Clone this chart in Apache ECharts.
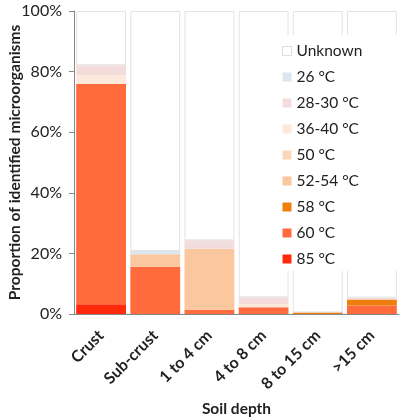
<!DOCTYPE html>
<html>
<head>
<meta charset="utf-8">
<script src="https://cdn.jsdelivr.net/npm/echarts@6/dist/echarts.min.js"></script>
<style>
  html, body { margin: 0; padding: 0; background: #fff; }
  #chart { width: 400px; height: 419px; }
</style>
</head>
<body>
<div id="chart"></div>
<script>
var depths = ["Crust", "Sub-crust", "1 to 4 cm", "4 to 8 cm", "8 to 15 cm", ">15 cm"];
var yTicks = [0, 20, 40, 60, 80, 100];

// percent of identified microorganisms, per depth
var t85 = [3.2, 0, 0, 0, 0, 0];
var t60 = [72.7, 15.6, 1.4, 2.2, 0, 2.8];
var t58 = [0, 0, 0, 0, 0.5, 2.0];
var t52 = [0, 4.1, 20.1, 0, 0, 0];
var t50 = [0, 0, 0, 0, 0, 0];
var t36 = [3.0, 0, 0, 1.1, 0, 0];
var t28 = [3.2, 0, 2.8, 2.2, 0, 0.6];
var t26 = [0, 1.1, 0, 0, 0, 0];
var unknown = [17.9, 79.2, 75.7, 94.5, 99.5, 94.6];

var font = "Lato";
var txt = "#222222";

function stackBar(name, data, color, border) {
    return {
        name: name,
        type: 'bar',
        stack: 'all',
        data: data,
        barCategoryGap: '8%',
        itemStyle: {
            color: color,
            borderColor: border ? '#e3e3e3' : color,
            borderWidth: border ? 1 : 0
        }
    };
}

var myChart = echarts.init(document.getElementById('chart'));
var option = {
    animation: false,
    backgroundColor: '#fff',
    textStyle: { fontFamily: font },
    grid: { left: 74, right: 1, top: 11, bottom: 105, containLabel: false, outerBoundsMode: 'none' },
    legend: {
        orient: 'vertical',
        left: 272,
        top: 35,
        padding: [8, 40, 4, 10],
        backgroundColor: '#fff',
        itemWidth: 9,
        itemHeight: 9,
        itemGap: 10,
        icon: 'rect',
        data: [
            { name: 'Unknown', itemStyle: { color: '#fff', borderColor: '#dddddd', borderWidth: 1 } },
            '26 °C', '28-30 °C', '36-40 °C', '50 °C', '52-54 °C', '58 °C', '60 °C', '85 °C'
        ],
        textStyle: { fontFamily: font, fontSize: 15.5, color: txt, lineHeight: 16 }
    },
    xAxis: {
        type: 'category',
        data: depths,
        name: 'Soil depth',
        nameLocation: 'middle',
        nameGap: 87,
        nameMoveOverlap: false,
        nameTextStyle: { fontFamily: font, fontSize: 15.5, fontWeight: 'bold', color: txt },
        axisLine: { lineStyle: { color: '#888', width: 1 } },
        axisTick: { length: 5, lineStyle: { color: '#888' } },
        axisLabel: {
            rotate: 45,
            margin: 19,
            fontFamily: font,
            fontSize: 16,
            fontWeight: 'bold',
            color: txt
        }
    },
    yAxis: {
        type: 'value',
        min: 0,
        max: 100,
        interval: 20,
        name: 'Proportion of identified microorganisms',
        nameLocation: 'middle',
        nameGap: 51,
        nameMoveOverlap: false,
        nameTextStyle: { fontFamily: font, fontSize: 15.5, fontWeight: 'bold', color: txt },
        axisLine: { show: true, lineStyle: { color: '#888', width: 1 } },
        axisTick: { show: true, length: 5, lineStyle: { color: '#888' } },
        splitLine: { show: false },
        axisLabel: {
            margin: 12,
            fontFamily: font,
            fontSize: 16,
            color: txt,
            formatter: function (v) {
                return yTicks.indexOf(v) >= 0 ? v + '%' : '';
            }
        }
    },
    series: [
        stackBar('85 °C', t85, '#ff2a0c'),
        stackBar('60 °C', t60, '#ff6b3d'),
        stackBar('58 °C', t58, '#ef7f0c'),
        stackBar('52-54 °C', t52, '#fbc79e'),
        stackBar('50 °C', t50, '#fcd6b8'),
        stackBar('36-40 °C', t36, '#fde9dc'),
        stackBar('28-30 °C', t28, '#f3dcdc'),
        stackBar('26 °C', t26, '#dce6f1'),
        stackBar('Unknown', unknown, '#ffffff', true)
    ]
};
myChart.setOption(option);
</script>
</body>
</html>
